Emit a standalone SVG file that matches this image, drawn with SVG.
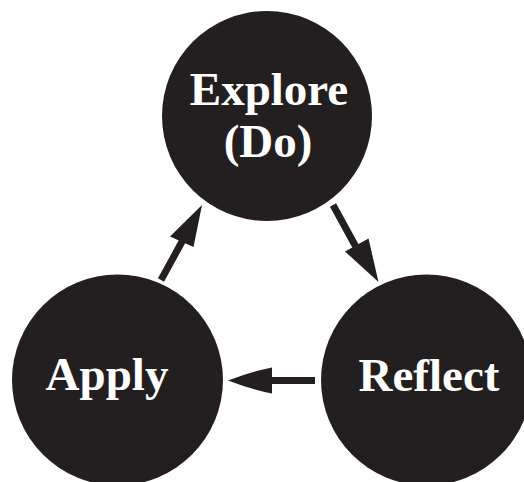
<svg xmlns="http://www.w3.org/2000/svg" width="524" height="482" viewBox="0 0 524 482">
<defs>
<style>
.node{fill:#231f20}
.lbl{fill:#ffffff;font-family:"Liberation Serif","Times New Roman",serif;font-weight:bold;font-size:47px;text-anchor:middle}
.shaft{stroke:#231f20;stroke-width:7;fill:none}
.head{fill:#231f20}
</style>
</defs>
<rect width="524" height="482" fill="#ffffff"/>
<g id="explore">
<circle class="node" cx="267" cy="116" r="105"/>
<text class="lbl" x="269" y="105">Explore</text>
<text class="lbl" x="268" y="157">(Do)</text>
</g>
<g id="reflect">
<circle class="node" cx="426.5" cy="380" r="105.5"/>
<text class="lbl" x="429" y="391">Reflect</text>
</g>
<g id="apply">
<circle class="node" cx="117.5" cy="380" r="105.5"/>
<text class="lbl" x="107" y="390">Apply</text>
</g>
<g id="connectors">
<line class="shaft" x1="315" y1="380.5" x2="268" y2="380.5"/>
<path class="head" d="M228,380.5 Q250,372 272,367.5 L272,393.5 Q250,389 228,380.5 Z"/>
<line class="shaft" x1="161" y1="280" x2="184" y2="238"/>
<path class="head" d="M202,205 L193.5,247 L170,236.5 Z"/>
<line class="shaft" x1="333" y1="205" x2="356" y2="247"/>
<path class="head" d="M378.5,282 L345,251.5 L368.5,238.5 Z"/>
</g>
</svg>
